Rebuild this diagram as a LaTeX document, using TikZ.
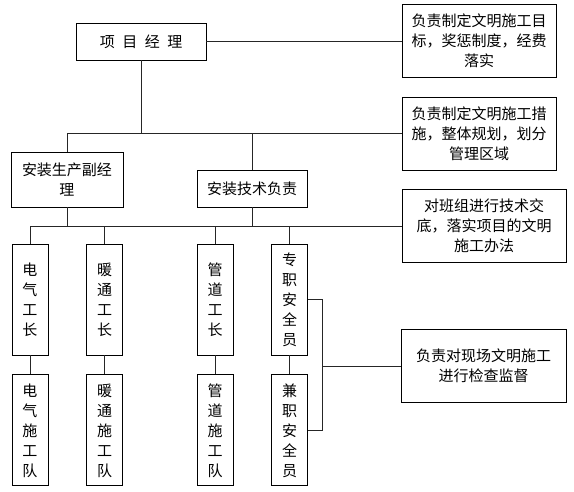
\documentclass[tikz,border=0pt]{standalone}
\usepackage{fontspec}
\usepackage{tikz}
\usetikzlibrary{positioning}
\newfontfamily\cjk{Noto Sans CJK SC}
\tikzset{
  post/.style={rectangle,draw=black,line width=0.9pt,fill=white,align=center,inner sep=0pt,font=\cjk\fontsize{15}{20}\selectfont},
  duty/.style={post,minimum width=154pt,minimum height=73pt},
  crew/.style={post,minimum width=36pt,minimum height=111pt},
  link/.style={line width=0.9pt,draw=black!85}
}

\begin{document}
\begin{tikzpicture}[x=1pt,y=-1pt]
  \useasboundingbox (0,0) rectangle (574,492);
  \node[post,minimum width=130pt,minimum height=37pt] (pm) at (141,41.5) {项\hspace{0.5em}目\hspace{0.5em}经\hspace{0.5em}理};
  \node[duty] (d1) at (479,41) {负责制定文明施工目\\标，奖惩制度，经费\\落实};
  \node[duty] (d2) at (479,133.5) {负责制定文明施工措\\施，整体规划，划分\\管理区域};
  \node[post,minimum width=112pt,minimum height=55pt] (fujl) at (67,179.5) {安装生产副经\\理};
  \node[post,minimum width=110pt,minimum height=37pt] (jsfz) at (252,188.5) {安装技术负责};
  \node[duty,minimum width=164pt] (d3) at (484,226) {对班组进行技术交\\底，落实项目的文明\\施工办法};
  \node[duty,minimum width=165pt] (d4) at (483.5,366) {负责对现场文明施工\\进行检查监督};

  \node[crew] (dq) at (30,299.5) {电\\气\\工\\长};
  \node[crew] (nt) at (104.5,299.5) {暖\\通\\工\\长};
  \node[crew] (gd) at (215,299.5) {管\\道\\工\\长};
  \node[crew] (zz) at (289.5,299.5) {专\\职\\安\\全\\员};
  \node[crew,below=19pt of dq] (dqd) {电\\气\\施\\工\\队};
  \node[crew,below=19pt of nt] (ntd) {暖\\通\\施\\工\\队};
  \node[crew,below=19pt of gd] (gdd) {管\\道\\施\\工\\队};
  \node[crew,below=19pt of zz] (jz) {兼\\职\\安\\全\\员};

  \draw[link] (pm.east) -- (pm.east -| d1.west);
  \draw[link] (fujl.north) |- (d2.west);
  \draw[link] (pm.south) -- (pm.south |- d2.west);
  \draw[link] (jsfz.north) -- (jsfz.north |- d2.west);
  \draw[link] (dq.north) |- (d3.west);
  \foreach \n in {fujl,jsfz} \draw[link] (\n.south) -- (\n.south |- d3.west);
  \foreach \n in {nt,gd,zz} \draw[link] (\n.north) -- (\n.north |- d3.west);
  \foreach \a/\b in {dq/dqd,nt/ntd,gd/gdd,zz/jz} \draw[link] (\a) -- (\b);
  \draw[link] (zz.east) -- ++(14,0) coordinate (brk) |- (jz.east);
  \draw[link] (d4.west) -- (d4.west -| brk);
\end{tikzpicture}
\end{document}
